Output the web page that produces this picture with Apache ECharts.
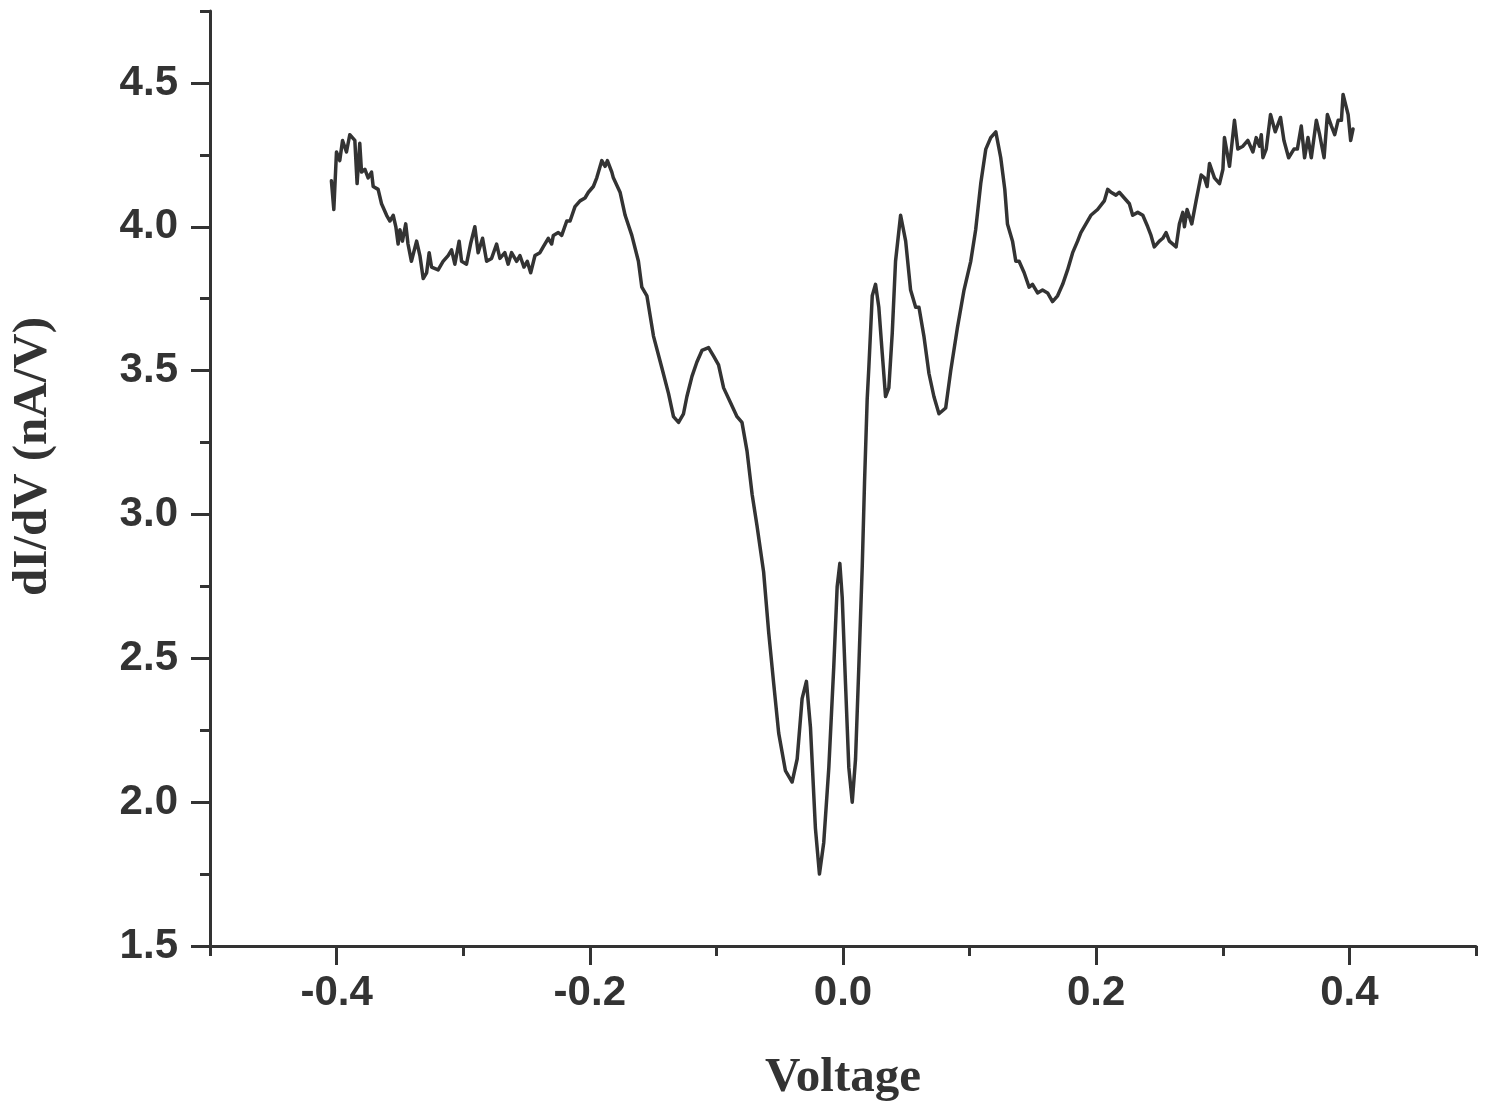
<!DOCTYPE html>
<html>
<head>
<meta charset="utf-8">
<title>dI/dV vs Voltage</title>
<script src="https://cdn.jsdelivr.net/npm/echarts@6/dist/echarts.min.js"></script>
<style>
  html, body { margin: 0; padding: 0; background: #fff; }
  #chart { width: 1486px; height: 1106px; }
</style>
</head>
<body>
<div id="chart"></div>
<script>
// values
const voltage = [
  -0.4041, -0.4022, -0.4001, -0.3975, -0.3953, -0.3922, -0.3896, -0.3856, -0.3838, -0.3817,
  -0.3803, -0.3777, -0.3751, -0.3724, -0.3711, -0.3672, -0.3645, -0.3605, -0.3579, -0.3553,
  -0.3532, -0.3514, -0.3500, -0.3480, -0.3454, -0.3436, -0.3409, -0.3368, -0.3342, -0.3316,
  -0.3289, -0.3269, -0.3250, -0.3198, -0.3159, -0.3119, -0.3092, -0.3066, -0.3032, -0.3013,
  -0.2974, -0.2942, -0.2908, -0.2882, -0.2847, -0.2815, -0.2776, -0.2736, -0.2710, -0.2671,
  -0.2645, -0.2618, -0.2578, -0.2552, -0.2520, -0.2494, -0.2467, -0.2433, -0.2394, -0.2368,
  -0.2328, -0.2301, -0.2288, -0.2249, -0.2222, -0.2182, -0.2156, -0.2117, -0.2077, -0.2038,
  -0.2011, -0.1972, -0.1945, -0.1905, -0.1879, -0.1861, -0.1826, -0.1814, -0.1761, -0.1721,
  -0.1668, -0.1616, -0.1589, -0.1549, -0.1497, -0.1431, -0.1378, -0.1339, -0.1299, -0.1260,
  -0.1233, -0.1193, -0.1154, -0.1114, -0.1062, -0.1022, -0.0983, -0.0943, -0.0890, -0.0837,
  -0.0798, -0.0758, -0.0718, -0.0679, -0.0627, -0.0587, -0.0547, -0.0508, -0.0455, -0.0402,
  -0.0362, -0.0323, -0.0289, -0.0257, -0.0218, -0.0186, -0.0152, -0.0112, -0.0073, -0.0046,
  -0.0025, -0.0006, 0.0020, 0.0046, 0.0073, 0.0099, 0.0125, 0.0152, 0.0170, 0.0191,
  0.0204, 0.0231, 0.0257, 0.0283, 0.0310, 0.0336, 0.0362, 0.0389, 0.0415, 0.0455,
  0.0495, 0.0534, 0.0574, 0.0600, 0.0639, 0.0679, 0.0718, 0.0758, 0.0811, 0.0851,
  0.0904, 0.0956, 0.1009, 0.1048, 0.1088, 0.1128, 0.1167, 0.1207, 0.1246, 0.1278,
  0.1299, 0.1339, 0.1365, 0.1391, 0.1431, 0.1470, 0.1497, 0.1537, 0.1576, 0.1616,
  0.1655, 0.1695, 0.1735, 0.1774, 0.1814, 0.1853, 0.1879, 0.1919, 0.1958, 0.2011,
  0.2064, 0.2091, 0.2117, 0.2156, 0.2182, 0.2222, 0.2262, 0.2288, 0.2328, 0.2368,
  0.2407, 0.2433, 0.2459, 0.2499, 0.2526, 0.2552, 0.2578, 0.2631, 0.2657, 0.2684,
  0.2697, 0.2718, 0.2755, 0.2789, 0.2829, 0.2855, 0.2876, 0.2895, 0.2934, 0.2974,
  0.3001, 0.3013, 0.3053, 0.3092, 0.3119, 0.3159, 0.3198, 0.3238, 0.3264, 0.3290,
  0.3304, 0.3317, 0.3343, 0.3377, 0.3414, 0.3456, 0.3483, 0.3520, 0.3562, 0.3589,
  0.3620, 0.3646, 0.3673, 0.3699, 0.3739, 0.3765, 0.3800, 0.3826, 0.3858, 0.3884,
  0.3911, 0.3937, 0.3950, 0.3990, 0.4010, 0.4029
];

const dIdV = [
  4.16, 4.06, 4.26, 4.23, 4.30, 4.26, 4.32, 4.30, 4.15, 4.29,
  4.19, 4.20, 4.17, 4.19, 4.14, 4.13, 4.08, 4.04, 4.02, 4.04,
  4.00, 3.94, 3.99, 3.95, 4.01, 3.94, 3.88, 3.95, 3.90, 3.82,
  3.84, 3.91, 3.86, 3.85, 3.88, 3.90, 3.92, 3.87, 3.95, 3.88,
  3.87, 3.94, 4.00, 3.91, 3.96, 3.88, 3.89, 3.94, 3.89, 3.91,
  3.87, 3.91, 3.88, 3.90, 3.86, 3.88, 3.84, 3.90, 3.91, 3.93,
  3.96, 3.94, 3.97, 3.98, 3.97, 4.02, 4.02, 4.07, 4.09, 4.10,
  4.12, 4.14, 4.17, 4.23, 4.21, 4.23, 4.19, 4.17, 4.12, 4.04,
  3.97, 3.88, 3.79, 3.76, 3.62, 3.51, 3.42, 3.34, 3.32, 3.35,
  3.41, 3.48, 3.53, 3.57, 3.58, 3.55, 3.52, 3.44, 3.39, 3.34,
  3.32, 3.22, 3.07, 2.96, 2.80, 2.59, 2.41, 2.24, 2.11, 2.07,
  2.15, 2.36, 2.42, 2.26, 1.91, 1.75, 1.86, 2.12, 2.47, 2.75,
  2.83, 2.71, 2.41, 2.12, 2.00, 2.15, 2.47, 2.82, 3.11, 3.40,
  3.51, 3.76, 3.80, 3.72, 3.56, 3.41, 3.44, 3.63, 3.88, 4.04,
  3.95, 3.78, 3.72, 3.72, 3.62, 3.49, 3.41, 3.35, 3.37, 3.50,
  3.65, 3.78, 3.88, 3.99, 4.15, 4.27, 4.31, 4.33, 4.24, 4.13,
  4.01, 3.95, 3.88, 3.88, 3.84, 3.79, 3.80, 3.77, 3.78, 3.77,
  3.74, 3.76, 3.80, 3.85, 3.91, 3.95, 3.98, 4.01, 4.04, 4.06,
  4.09, 4.13, 4.12, 4.11, 4.12, 4.10, 4.08, 4.04, 4.05, 4.04,
  4.00, 3.97, 3.93, 3.95, 3.96, 3.98, 3.95, 3.93, 4.01, 4.05,
  4.00, 4.06, 4.01, 4.09, 4.18, 4.17, 4.14, 4.22, 4.17, 4.15,
  4.20, 4.31, 4.21, 4.37, 4.27, 4.28, 4.30, 4.26, 4.31, 4.28,
  4.32, 4.24, 4.27, 4.39, 4.33, 4.38, 4.30, 4.24, 4.27, 4.27,
  4.35, 4.24, 4.31, 4.24, 4.37, 4.32, 4.24, 4.39, 4.35, 4.32,
  4.37, 4.37, 4.46, 4.39, 4.30, 4.34
];

const xMajorTicks = [-0.4, -0.2, 0.0, 0.2, 0.4];
const yMajorTicks = [1.5, 2.0, 2.5, 3.0, 3.5, 4.0, 4.5];

const ink = '#333333';
const tickFont = { color: ink, fontFamily: '"Liberation Sans", Arial, sans-serif', fontWeight: 'bold', fontSize: 42 };
const nameFont = { color: ink, fontFamily: '"Liberation Serif", "Times New Roman", serif', fontWeight: 'bold', fontSize: 49 };
const axisStroke = { color: ink, width: 3 };

const chart = echarts.init(document.getElementById('chart'));

const option = {
  backgroundColor: '#ffffff',
  animation: false,
  grid: {
    left: 210,
    right: 10,
    top: 11,
    bottom: 160,
    outerBoundsMode: 'none'
  },
  xAxis: [
    {
      type: 'value',
      min: -0.5,
      max: 0.5,
      interval: 0.1,
      name: 'Voltage',
      nameLocation: 'middle',
      nameGap: 108,
      nameTextStyle: nameFont,
      axisLine: { show: true, onZero: false, lineStyle: axisStroke },
      axisTick: { show: true, length: 10, lineStyle: axisStroke },
      axisLabel: {
        ...tickFont,
        margin: 26,
        customValues: xMajorTicks,
        formatter: v => v.toFixed(1)
      },
      splitLine: { show: false }
    },
    {
      type: 'value',
      min: -0.5,
      max: 0.5,
      position: 'bottom',
      axisLine: { show: false, onZero: false },
      axisTick: { show: true, length: 19, customValues: xMajorTicks, lineStyle: axisStroke },
      axisLabel: { show: false },
      splitLine: { show: false }
    }
  ],
  yAxis: [
    {
      type: 'value',
      min: 1.5,
      max: 4.75,
      interval: 0.25,
      name: 'dI/dV (nA/V)',
      nameLocation: 'middle',
      nameRotate: 90,
      nameGap: 152,
      nameTextStyle: { ...nameFont, padding: [0, 0, 0, 44] },
      axisLine: { show: true, onZero: false, lineStyle: axisStroke },
      axisTick: { show: true, length: 10, lineStyle: axisStroke },
      axisLabel: {
        ...tickFont,
        margin: 32,
        customValues: yMajorTicks,
        formatter: v => v.toFixed(1)
      },
      splitLine: { show: false }
    },
    {
      type: 'value',
      min: 1.5,
      max: 4.75,
      position: 'left',
      axisLine: { show: false, onZero: false },
      axisTick: { show: true, length: 19, customValues: yMajorTicks, lineStyle: axisStroke },
      axisLabel: { show: false },
      splitLine: { show: false }
    }
  ],
  series: [
    {
      name: 'dI/dV',
      type: 'line',
      xAxisIndex: 0,
      yAxisIndex: 0,
      showSymbol: false,
      smooth: false,
      lineStyle: { color: ink, width: 3.5, join: 'round', cap: 'round' },
      data: voltage.map((v, i) => [v, dIdV[i]])
    }
  ]
};

chart.setOption(option);
</script>
</body>
</html>
